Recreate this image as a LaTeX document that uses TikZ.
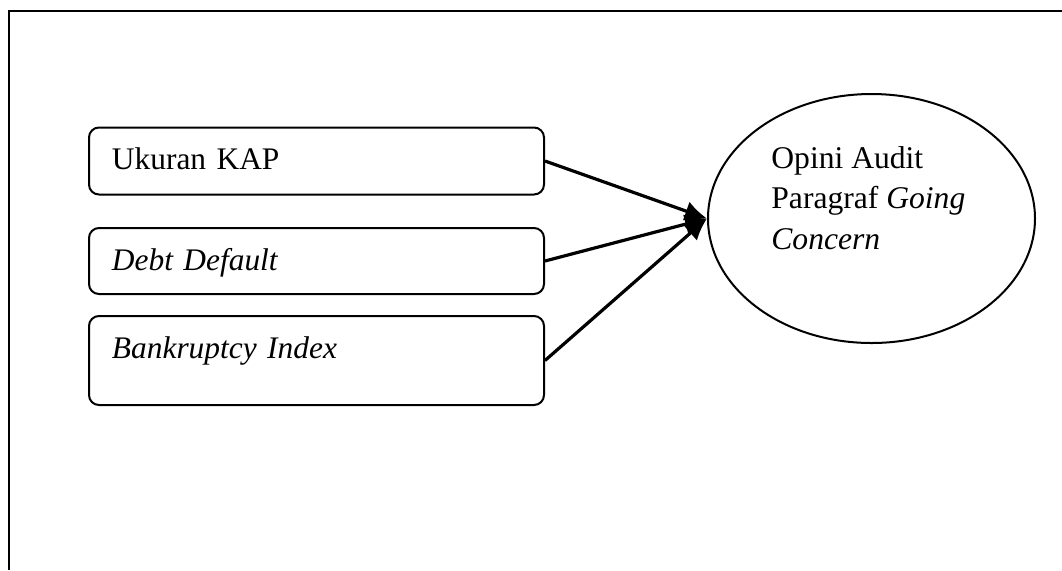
\documentclass[tikz,border=0pt]{standalone}
\usepackage{fontspec}
\setmainfont{Liberation Serif}
\usetikzlibrary{arrows.meta,shapes.geometric}
\begin{document}
\begin{tikzpicture}[x=0.5pt,y=-0.5pt,
  varbox/.style={draw,line width=1pt,rounded corners=5pt,inner xsep=11.5pt,inner ysep=0pt,
    text width=204.5pt,align=left,text height=21pt,font=\fontsize{15.7}{18}\selectfont},
  hubungan/.style={line width=1.6pt,-{Latex[length=11pt,width=10pt]}}]
  \useasboundingbox (0,0) rectangle (1062,570);
  \draw[line width=1.2pt] (9,570) -- (9,11) -- (1062,11);
  \node[varbox,text depth=12.5pt] (kap) at (316.5,161) {Ukuran KAP};
  \node[varbox,text depth=12pt] (debt) at (316.5,261) {\textit{Debt Default}};
  \node[varbox,text depth=23.5pt] (bankrupt) at (316.5,360.5) {\textit{Bankruptcy Index}};
  \node[draw,ellipse,line width=1pt,minimum width=163.5pt,minimum height=124.5pt] (opini) at (871.5,218.5) {};
  \node[anchor=base west,inner sep=0pt,align=left,font=\fontsize{15.8}{20.2}\selectfont] (opinitext) at (771,249)
    {Opini Audit\\Paragraf \textit{Going}\\\textit{Concern}};
  \draw[hubungan] (kap.east) -- (opini.west);
  \draw[hubungan] (debt.east) -- (opini.west);
  \draw[hubungan] (bankrupt.east) -- (opini.west);
\end{tikzpicture}
\end{document}
